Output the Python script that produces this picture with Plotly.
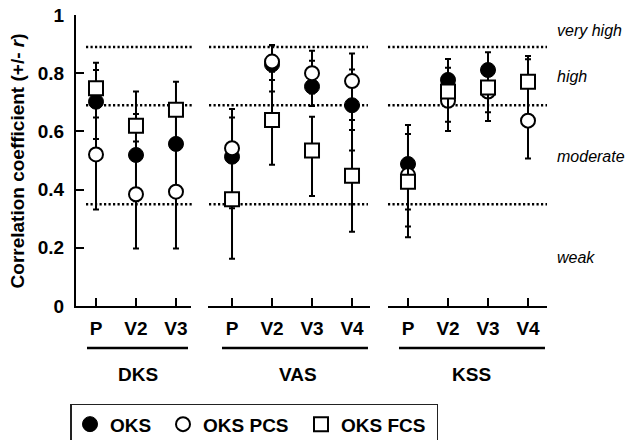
import plotly.graph_objects as go

# ---------------- data ----------------
groups = ["DKS", "VAS", "KSS"]
visits = [["P", "V2", "V3"], ["P", "V2", "V3", "V4"], ["P", "V2", "V3", "V4"]]
series_names = ["OKS", "OKS PCS", "OKS FCS"]

oks_r  = [[0.702, 0.519, 0.557], [0.513, 0.830, 0.754, 0.690], [0.488, 0.777, 0.811, None]]
oks_lo = [[0.574, 0.360, 0.400], [0.336, 0.737, 0.687, 0.534], [0.332, 0.700, 0.740, None]]
oks_hi = [[0.811, 0.660, 0.680], [0.648, 0.895, 0.843, 0.813], [0.622, 0.849, 0.872, None]]

pcs_r  = [[0.521, 0.384, 0.393], [0.542, 0.840, 0.800, 0.773], [0.450, 0.705, 0.737, 0.637]]
pcs_lo = [[0.332, 0.198, 0.198], [0.370, 0.805, 0.730, 0.639], [0.273, 0.601, 0.636, 0.507]]
pcs_hi = [[0.648, 0.565, 0.540], [0.677, 0.897, 0.877, 0.868], [0.591, 0.790, 0.800, 0.848]]

fcs_r  = [[0.748, 0.619, 0.674], [0.367, 0.639, 0.534, 0.448], [0.427, 0.737, 0.751, 0.771]]
fcs_lo = [[0.690, 0.510, 0.550], [0.162, 0.485, 0.378, 0.255], [0.236, 0.633, 0.666, 0.750]]
fcs_hi = [[0.836, 0.737, 0.771], [0.500, 0.777, 0.650, 0.605], [0.500, 0.819, 0.830, 0.859]]

thresholds = [0.35, 0.69, 0.89]
strength_labels = ["weak", "moderate", "high", "very high"]
strength_label_y = [0.168, 0.515, 0.79, 0.948]

y_tickvals = [0, 0.2, 0.4, 0.6, 0.8, 1]
y_ticktext = ["0", "0.2", "0.4", "0.6", "0.8", "1"]

# ---------------- style / layout constants ----------------
FONT = "Liberation Sans, Arial, sans-serif"
x_domains = [[0.0, 0.2436], [0.2797, 0.6229], [0.661, 0.9979]]
x_ranges = [[-0.5, 2.375], [-0.6, 3.45], [-0.5, 3.475]]
dot_spans = [[0.0212, 0.2458], [0.2818, 0.6186], [0.661, 0.9979]]
underline_spans = [[0.0233, 0.2373], [0.3093, 0.6186], [0.6843, 0.9936]]
group_label_x = [0.1314, 0.4704, 0.8369]

marker_styles = [
    dict(symbol="circle", size=15, color="black", line=dict(color="black", width=1)),
    dict(symbol="circle", size=14, color="white", line=dict(color="black", width=2)),
    dict(symbol="square", size=14, color="white", line=dict(color="black", width=2)),
]
legend_widths = [48, 93, 90]

all_series = [(oks_r, oks_lo, oks_hi), (pcs_r, pcs_lo, pcs_hi), (fcs_r, fcs_lo, fcs_hi)]


def diff(a, b):
    return [None if (x is None or y is None) else x - y for x, y in zip(a, b)]


fig = go.Figure()
for gi, g in enumerate(groups):
    xa = "x" if gi == 0 else f"x{gi + 1}"
    for si, (r, lo, hi) in enumerate(all_series):
        fig.add_trace(go.Scatter(
            x=visits[gi], y=r[gi], mode="markers",
            name=series_names[si], legendgroup=series_names[si],
            showlegend=(gi == 0), legendwidth=legend_widths[si],
            marker=marker_styles[si],
            error_y=dict(type="data", symmetric=False,
                         array=diff(hi[gi], r[gi]), arrayminus=diff(r[gi], lo[gi]),
                         color="black", thickness=2, width=3),
            xaxis=xa, yaxis="y", cliponaxis=False,
        ))

axis_common = dict(
    type="category", showline=True, linecolor="black", linewidth=2,
    ticks="inside", ticklen=8, tickwidth=2, tickcolor="black",
    showgrid=False, zeroline=False, anchor="y",
    tickfont=dict(family=FONT, size=19, color="black", weight="bold"),
    ticklabelstandoff=4, fixedrange=True,
)
layout_axes = {}
for gi in range(3):
    key = "xaxis" if gi == 0 else f"xaxis{gi + 1}"
    layout_axes[key] = dict(axis_common, domain=x_domains[gi], range=x_ranges[gi],
                            categoryorder="array", categoryarray=visits[gi])

shapes = []
for gi in range(3):
    for t in thresholds:
        shapes.append(dict(type="line", xref="paper", yref="y",
                           x0=dot_spans[gi][0], x1=dot_spans[gi][1], y0=t, y1=t,
                           line=dict(color="black", width=2.5, dash="2.2px,2.3px"),
                           layer="below"))
    shapes.append(dict(type="line", xref="paper", yref="paper",
                       x0=underline_spans[gi][0], x1=underline_spans[gi][1],
                       y0=-0.144, y1=-0.144, line=dict(color="black", width=2.5)))

annotations = []
for gi, g in enumerate(groups):
    annotations.append(dict(text=g, xref="paper", yref="paper", x=group_label_x[gi], y=-0.237,
                            xanchor="center", yanchor="middle", showarrow=False,
                            font=dict(family=FONT, size=19, color="black", weight="bold")))
for lab, ly in zip(strength_labels, strength_label_y):
    annotations.append(dict(text=f"<i>{lab}</i>", xref="paper", yref="paper", x=1.0148, y=ly,
                            xanchor="left", yanchor="middle", showarrow=False,
                            font=dict(family=FONT, size=16, color="black")))
annotations.append(dict(text="<b>Correlation coefficient (+/- <i>r</i>)</b>", textangle=-90,
                        xref="paper", yref="paper", x=-0.123, y=0.5,
                        xanchor="center", yanchor="middle", showarrow=False,
                        font=dict(family=FONT, size=19, color="black")))

fig.update_layout(
    width=629, height=440,
    margin=dict(l=76, r=81, t=15, b=134, autoexpand=False),
    paper_bgcolor="white", plot_bgcolor="white",
    font=dict(family=FONT, color="black"),
    yaxis=dict(range=[0, 1], showline=True, linecolor="black", linewidth=2,
               ticks="inside", ticklen=8, tickwidth=2, tickcolor="black",
               tickvals=y_tickvals, ticktext=y_ticktext,
               showgrid=False, zeroline=False, anchor="x", ticklabelstandoff=6,
               tickfont=dict(family=FONT, size=19, color="black", weight="bold"),
               fixedrange=True),
    shapes=shapes, annotations=annotations,
    showlegend=True,
    legend=dict(orientation="h", x=-0.0127, xanchor="left", y=-0.336, yanchor="top",
                bordercolor="#222", borderwidth=1.5, bgcolor="white",
                font=dict(family=FONT, size=19, color="black", weight="bold"),
                itemclick=False, itemdoubleclick=False),
    **layout_axes,
)

fig.write_html("out.html", config={"displayModeBar": False},
               post_script="document.body.style.margin='0';document.body.style.overflow='hidden';")
